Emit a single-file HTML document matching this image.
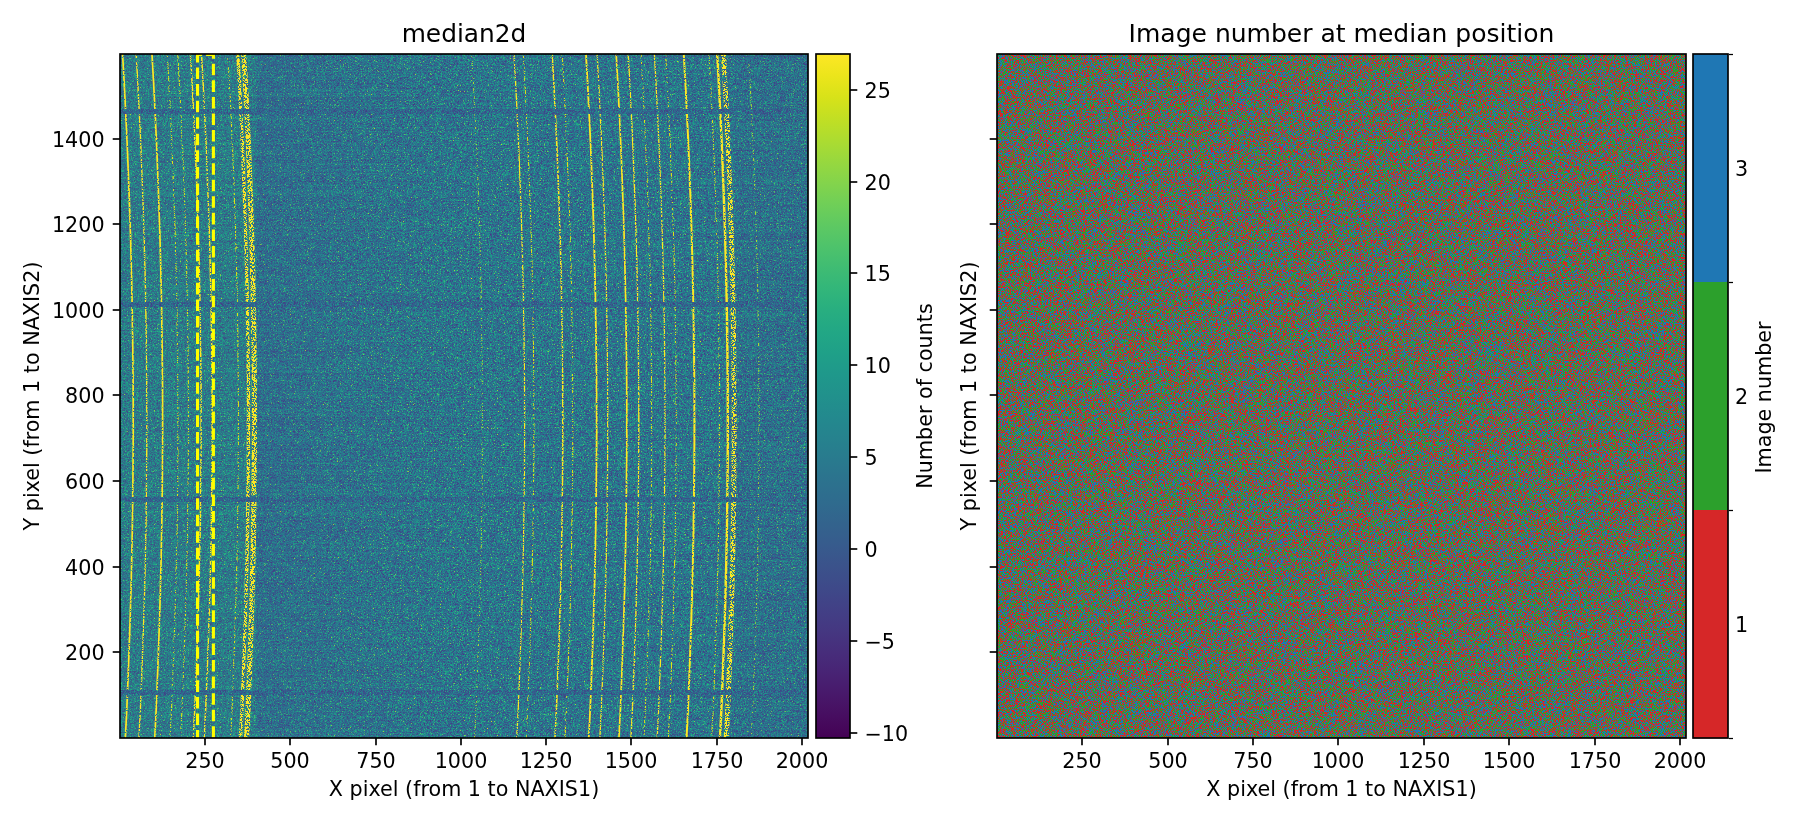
<!DOCTYPE html>
<html lang="en"><head><meta charset="utf-8"><title>median2d</title>
<style>html,body{margin:0;padding:0;background:#fff;overflow:hidden}svg{display:block;will-change:transform}text{font-family:"DejaVu Sans","Liberation Sans",sans-serif;fill:#000}</style></head><body>
<svg width="1800" height="825" viewBox="0 0 1800 825">
<rect width="1800" height="825" fill="#fff"/>
<defs>
<filter id="nz" x="0" y="0" width="100%" height="100%" color-interpolation-filters="sRGB">
<feTurbulence type="fractalNoise" baseFrequency="1.7" numOctaves="2" seed="3"/>
<feColorMatrix type="matrix" values="1 0 0 0 0 1 0 0 0 0 1 0 0 0 0 0 0 0 0 1"/>
<feComponentTransfer><feFuncR type="table" tableValues="0.278 0.277 0.277 0.277 0.276 0.276 0.275 0.274 0.273 0.272 0.271 0.268 0.267 0.264 0.262 0.259 0.256 0.252 0.247 0.243 0.239 0.234 0.228 0.222 0.216 0.211 0.205 0.199 0.192 0.187 0.181 0.174 0.168 0.162 0.156 0.149 0.143 0.136 0.130 0.125 0.121 0.119 0.122 0.130 0.147 0.166 0.197 0.233 0.274 0.320 0.369 0.431 0.487 0.555 0.616 0.689 0.762 0.835 0.916 0.984 0.993 0.993 0.993 0.993"/><feFuncG type="table" tableValues="0.180 0.185 0.185 0.185 0.190 0.190 0.195 0.200 0.205 0.209 0.214 0.224 0.228 0.238 0.242 0.252 0.261 0.270 0.283 0.292 0.301 0.314 0.327 0.339 0.352 0.364 0.376 0.388 0.403 0.415 0.430 0.445 0.460 0.475 0.490 0.508 0.523 0.541 0.560 0.574 0.593 0.615 0.633 0.651 0.673 0.691 0.712 0.732 0.752 0.771 0.789 0.808 0.824 0.840 0.853 0.865 0.876 0.886 0.896 0.905 0.906 0.906 0.906 0.906"/><feFuncB type="table" tableValues="0.487 0.490 0.490 0.490 0.493 0.493 0.496 0.499 0.502 0.504 0.507 0.512 0.514 0.519 0.521 0.525 0.528 0.532 0.536 0.539 0.541 0.544 0.547 0.549 0.551 0.552 0.554 0.555 0.556 0.557 0.557 0.558 0.558 0.558 0.558 0.557 0.556 0.554 0.552 0.549 0.545 0.538 0.530 0.522 0.509 0.497 0.479 0.459 0.437 0.411 0.383 0.346 0.312 0.269 0.230 0.183 0.137 0.103 0.101 0.137 0.144 0.144 0.144 0.144"/></feComponentTransfer>
</filter>
<filter id="nzd" x="0" y="0" width="100%" height="100%" color-interpolation-filters="sRGB">
<feTurbulence type="fractalNoise" baseFrequency="1.7" numOctaves="2" seed="11"/>
<feColorMatrix type="matrix" values="1 0 0 0 0 1 0 0 0 0 1 0 0 0 0 0 0 0 0 1"/>
<feComponentTransfer><feFuncR type="table" tableValues="0.259 0.261 0.262 0.264 0.264 0.264 0.265 0.265 0.265 0.264 0.264 0.264 0.262 0.261 0.261 0.259 0.257 0.254 0.252 0.250 0.247 0.243 0.241 0.237 0.234 0.228 0.224 0.220 0.214 0.209 0.205 0.199 0.194 0.187 0.182 0.177 0.171 0.165 0.161 0.155 0.149 0.142 0.136 0.131 0.125 0.121 0.120 0.121 0.126 0.140 0.158 0.181 0.214 0.253 0.289 0.336 0.386 0.449 0.506 0.565 0.637 0.710 0.773 0.846"/><feFuncG type="table" tableValues="0.252 0.247 0.242 0.238 0.238 0.238 0.233 0.233 0.233 0.238 0.238 0.238 0.242 0.247 0.247 0.252 0.256 0.265 0.270 0.274 0.283 0.292 0.296 0.305 0.314 0.327 0.335 0.343 0.356 0.368 0.376 0.388 0.399 0.415 0.426 0.438 0.453 0.467 0.479 0.493 0.508 0.526 0.541 0.556 0.574 0.593 0.607 0.626 0.644 0.666 0.684 0.701 0.722 0.742 0.758 0.777 0.795 0.814 0.829 0.842 0.857 0.869 0.878 0.887"/><feFuncB type="table" tableValues="0.525 0.523 0.521 0.519 0.519 0.519 0.517 0.517 0.517 0.519 0.519 0.519 0.521 0.523 0.523 0.525 0.527 0.530 0.532 0.533 0.536 0.539 0.540 0.542 0.544 0.547 0.548 0.549 0.551 0.553 0.554 0.555 0.556 0.557 0.557 0.558 0.558 0.558 0.558 0.558 0.557 0.556 0.554 0.552 0.549 0.545 0.540 0.533 0.525 0.513 0.502 0.488 0.470 0.448 0.428 0.402 0.373 0.335 0.300 0.263 0.217 0.169 0.131 0.100"/></feComponentTransfer>
</filter>
<filter id="rgb" x="0" y="0" width="100%" height="100%" color-interpolation-filters="sRGB">
<feTurbulence type="fractalNoise" baseFrequency="1.7" numOctaves="2" seed="7"/>
<feColorMatrix type="matrix" values="1 0 0 0 0 1 0 0 0 0 1 0 0 0 0 0 0 0 0 1"/>
<feComponentTransfer><feFuncR type="discrete" tableValues="0.839 0.839 0.839 0.839 0.839 0.839 0.839 0.839 0.839 0.839 0.839 0.839 0.839 0.839 0.839 0.839 0.839 0.839 0.839 0.839 0.839 0.839 0.839 0.839 0.839 0.839 0.839 0.839 0.839 0.839 0.839 0.839 0.839 0.839 0.839 0.839 0.839 0.839 0.839 0.839 0.839 0.839 0.839 0.839 0.839 0.839 0.839 0.839 0.839 0.839 0.839 0.839 0.839 0.839 0.839 0.839 0.839 0.839 0.839 0.839 0.839 0.839 0.839 0.839 0.839 0.839 0.839 0.839 0.839 0.839 0.839 0.839 0.839 0.839 0.839 0.839 0.839 0.839 0.839 0.839 0.839 0.839 0.839 0.839 0.839 0.839 0.839 0.839 0.839 0.839 0.839 0.839 0.839 0.839 0.839 0.839 0.839 0.839 0.839 0.839 0.839 0.839 0.839 0.839 0.839 0.839 0.839 0.839 0.839 0.839 0.839 0.839 0.839 0.839 0.839 0.839 0.173 0.173 0.173 0.173 0.173 0.173 0.173 0.173 0.173 0.173 0.173 0.173 0.173 0.173 0.173 0.173 0.173 0.173 0.173 0.173 0.173 0.173 0.173 0.173 0.173 0.122 0.122 0.122 0.122 0.122 0.122 0.122 0.122 0.122 0.122 0.122 0.122 0.122 0.122 0.122 0.122 0.122 0.122 0.122 0.122 0.122 0.122 0.122 0.122 0.122 0.122 0.122 0.122 0.122 0.122 0.122 0.122 0.122 0.122 0.122 0.122 0.122 0.122 0.122 0.122 0.122 0.122 0.122 0.122 0.122 0.122 0.122 0.122 0.122 0.122 0.122 0.122 0.122 0.122 0.122 0.122 0.122 0.122 0.122 0.122 0.122 0.122 0.122 0.122 0.122 0.122 0.122 0.122 0.122 0.122 0.122 0.122 0.122 0.122 0.122 0.122 0.122 0.122 0.122 0.122 0.122 0.122 0.122 0.122 0.122 0.122 0.122 0.122 0.122 0.122 0.122 0.122 0.122 0.122 0.122 0.122 0.122 0.122 0.122 0.122 0.122 0.122 0.122 0.122 0.122 0.122 0.122 0.122 0.122 0.122 0.122 0.122 0.122 0.122 0.122"/><feFuncG type="discrete" tableValues="0.153 0.153 0.153 0.153 0.153 0.153 0.153 0.153 0.153 0.153 0.153 0.153 0.153 0.153 0.153 0.153 0.153 0.153 0.153 0.153 0.153 0.153 0.153 0.153 0.153 0.153 0.153 0.153 0.153 0.153 0.153 0.153 0.153 0.153 0.153 0.153 0.153 0.153 0.153 0.153 0.153 0.153 0.153 0.153 0.153 0.153 0.153 0.153 0.153 0.153 0.153 0.153 0.153 0.153 0.153 0.153 0.153 0.153 0.153 0.153 0.153 0.153 0.153 0.153 0.153 0.153 0.153 0.153 0.153 0.153 0.153 0.153 0.153 0.153 0.153 0.153 0.153 0.153 0.153 0.153 0.153 0.153 0.153 0.153 0.153 0.153 0.153 0.153 0.153 0.153 0.153 0.153 0.153 0.153 0.153 0.153 0.153 0.153 0.153 0.153 0.153 0.153 0.153 0.153 0.153 0.153 0.153 0.153 0.153 0.153 0.153 0.153 0.153 0.153 0.153 0.153 0.627 0.627 0.627 0.627 0.627 0.627 0.627 0.627 0.627 0.627 0.627 0.627 0.627 0.627 0.627 0.627 0.627 0.627 0.627 0.627 0.627 0.627 0.627 0.627 0.627 0.467 0.467 0.467 0.467 0.467 0.467 0.467 0.467 0.467 0.467 0.467 0.467 0.467 0.467 0.467 0.467 0.467 0.467 0.467 0.467 0.467 0.467 0.467 0.467 0.467 0.467 0.467 0.467 0.467 0.467 0.467 0.467 0.467 0.467 0.467 0.467 0.467 0.467 0.467 0.467 0.467 0.467 0.467 0.467 0.467 0.467 0.467 0.467 0.467 0.467 0.467 0.467 0.467 0.467 0.467 0.467 0.467 0.467 0.467 0.467 0.467 0.467 0.467 0.467 0.467 0.467 0.467 0.467 0.467 0.467 0.467 0.467 0.467 0.467 0.467 0.467 0.467 0.467 0.467 0.467 0.467 0.467 0.467 0.467 0.467 0.467 0.467 0.467 0.467 0.467 0.467 0.467 0.467 0.467 0.467 0.467 0.467 0.467 0.467 0.467 0.467 0.467 0.467 0.467 0.467 0.467 0.467 0.467 0.467 0.467 0.467 0.467 0.467 0.467 0.467"/><feFuncB type="discrete" tableValues="0.157 0.157 0.157 0.157 0.157 0.157 0.157 0.157 0.157 0.157 0.157 0.157 0.157 0.157 0.157 0.157 0.157 0.157 0.157 0.157 0.157 0.157 0.157 0.157 0.157 0.157 0.157 0.157 0.157 0.157 0.157 0.157 0.157 0.157 0.157 0.157 0.157 0.157 0.157 0.157 0.157 0.157 0.157 0.157 0.157 0.157 0.157 0.157 0.157 0.157 0.157 0.157 0.157 0.157 0.157 0.157 0.157 0.157 0.157 0.157 0.157 0.157 0.157 0.157 0.157 0.157 0.157 0.157 0.157 0.157 0.157 0.157 0.157 0.157 0.157 0.157 0.157 0.157 0.157 0.157 0.157 0.157 0.157 0.157 0.157 0.157 0.157 0.157 0.157 0.157 0.157 0.157 0.157 0.157 0.157 0.157 0.157 0.157 0.157 0.157 0.157 0.157 0.157 0.157 0.157 0.157 0.157 0.157 0.157 0.157 0.157 0.157 0.157 0.157 0.157 0.157 0.173 0.173 0.173 0.173 0.173 0.173 0.173 0.173 0.173 0.173 0.173 0.173 0.173 0.173 0.173 0.173 0.173 0.173 0.173 0.173 0.173 0.173 0.173 0.173 0.173 0.706 0.706 0.706 0.706 0.706 0.706 0.706 0.706 0.706 0.706 0.706 0.706 0.706 0.706 0.706 0.706 0.706 0.706 0.706 0.706 0.706 0.706 0.706 0.706 0.706 0.706 0.706 0.706 0.706 0.706 0.706 0.706 0.706 0.706 0.706 0.706 0.706 0.706 0.706 0.706 0.706 0.706 0.706 0.706 0.706 0.706 0.706 0.706 0.706 0.706 0.706 0.706 0.706 0.706 0.706 0.706 0.706 0.706 0.706 0.706 0.706 0.706 0.706 0.706 0.706 0.706 0.706 0.706 0.706 0.706 0.706 0.706 0.706 0.706 0.706 0.706 0.706 0.706 0.706 0.706 0.706 0.706 0.706 0.706 0.706 0.706 0.706 0.706 0.706 0.706 0.706 0.706 0.706 0.706 0.706 0.706 0.706 0.706 0.706 0.706 0.706 0.706 0.706 0.706 0.706 0.706 0.706 0.706 0.706 0.706 0.706 0.706 0.706 0.706 0.706"/></feComponentTransfer>
</filter>
<filter id="spS" x="-5%" y="0" width="110%" height="100%" color-interpolation-filters="sRGB">
<feTurbulence type="fractalNoise" baseFrequency="1.7" numOctaves="2" seed="21"/>
<feColorMatrix type="matrix" values="0 0 0 0 1 0 0 0 0 1 0 0 0 0 1 40 0 0 0 -14.600" result="m"/>
<feComposite in="SourceGraphic" in2="m" operator="in"/>
</filter>
<filter id="spM" x="-5%" y="0" width="110%" height="100%" color-interpolation-filters="sRGB">
<feTurbulence type="fractalNoise" baseFrequency="1.7" numOctaves="2" seed="22"/>
<feColorMatrix type="matrix" values="0 0 0 0 1 0 0 0 0 1 0 0 0 0 1 40 0 0 0 -17.800" result="m"/>
<feComposite in="SourceGraphic" in2="m" operator="in"/>
</filter>
<filter id="spW" x="-5%" y="0" width="110%" height="100%" color-interpolation-filters="sRGB">
<feTurbulence type="fractalNoise" baseFrequency="1.7" numOctaves="2" seed="23"/>
<feColorMatrix type="matrix" values="0 0 0 0 1 0 0 0 0 1 0 0 0 0 1 40 0 0 0 -21.200" result="m"/>
<feComposite in="SourceGraphic" in2="m" operator="in"/>
</filter>
<filter id="spV" x="-5%" y="0" width="110%" height="100%" color-interpolation-filters="sRGB">
<feTurbulence type="fractalNoise" baseFrequency="1.7" numOctaves="2" seed="24"/>
<feColorMatrix type="matrix" values="0 0 0 0 1 0 0 0 0 1 0 0 0 0 1 40 0 0 0 -22.400" result="m"/>
<feComposite in="SourceGraphic" in2="m" operator="in"/>
</filter>
<filter id="spX" x="-5%" y="0" width="110%" height="100%" color-interpolation-filters="sRGB">
<feTurbulence type="fractalNoise" baseFrequency="1.7" numOctaves="2" seed="25"/>
<feColorMatrix type="matrix" values="0 0 0 0 1 0 0 0 0 1 0 0 0 0 1 40 0 0 0 -19.000" result="m"/>
<feComposite in="SourceGraphic" in2="m" operator="in"/>
</filter>
<filter id="spY" x="-5%" y="0" width="110%" height="100%" color-interpolation-filters="sRGB">
<feTurbulence type="fractalNoise" baseFrequency="1.7" numOctaves="2" seed="26"/>
<feColorMatrix type="matrix" values="0 0 0 0 1 0 0 0 0 1 0 0 0 0 1 40 0 0 0 -20.000" result="m"/>
<feComposite in="SourceGraphic" in2="m" operator="in"/>
</filter>
<filter id="rows" x="0" y="0" width="100%" height="100%" color-interpolation-filters="sRGB"><feTurbulence type="fractalNoise" baseFrequency="0.002 0.8" numOctaves="1" seed="5"/><feColorMatrix type="matrix" values="0 0 0 0 0.13 0 0 0 0 0.75 0 0 0 0 0.55 3 0 0 0 -1.5"/></filter>
<filter id="rowsd" x="0" y="0" width="100%" height="100%" color-interpolation-filters="sRGB"><feTurbulence type="fractalNoise" baseFrequency="0.002 0.8" numOctaves="1" seed="9"/><feColorMatrix type="matrix" values="0 0 0 0 0.25 0 0 0 0 0.2 0 0 0 0 0.5 3 0 0 0 -1.5"/></filter>
<clipPath id="cl"><rect x="120" y="54" width="688" height="684"/></clipPath>
<linearGradient id="vg" x1="0" y1="1" x2="0" y2="0">
<stop offset="0.0000" stop-color="#440154"/>
<stop offset="0.0312" stop-color="#470d60"/>
<stop offset="0.0625" stop-color="#48186a"/>
<stop offset="0.0938" stop-color="#482374"/>
<stop offset="0.1250" stop-color="#472d7b"/>
<stop offset="0.1562" stop-color="#453781"/>
<stop offset="0.1875" stop-color="#424086"/>
<stop offset="0.2188" stop-color="#3e4989"/>
<stop offset="0.2500" stop-color="#3b528b"/>
<stop offset="0.2812" stop-color="#375b8d"/>
<stop offset="0.3125" stop-color="#33638d"/>
<stop offset="0.3438" stop-color="#2f6b8e"/>
<stop offset="0.3750" stop-color="#2c728e"/>
<stop offset="0.4062" stop-color="#297a8e"/>
<stop offset="0.4375" stop-color="#26828e"/>
<stop offset="0.4688" stop-color="#23898e"/>
<stop offset="0.5000" stop-color="#21918c"/>
<stop offset="0.5312" stop-color="#1f988b"/>
<stop offset="0.5625" stop-color="#1fa088"/>
<stop offset="0.5938" stop-color="#22a785"/>
<stop offset="0.6250" stop-color="#28ae80"/>
<stop offset="0.6562" stop-color="#32b67a"/>
<stop offset="0.6875" stop-color="#3fbc73"/>
<stop offset="0.7188" stop-color="#4ec36b"/>
<stop offset="0.7500" stop-color="#5ec962"/>
<stop offset="0.7812" stop-color="#70cf57"/>
<stop offset="0.8125" stop-color="#84d44b"/>
<stop offset="0.8438" stop-color="#98d83e"/>
<stop offset="0.8750" stop-color="#addc30"/>
<stop offset="0.9062" stop-color="#c2df23"/>
<stop offset="0.9375" stop-color="#d8e219"/>
<stop offset="0.9688" stop-color="#ece51b"/>
<stop offset="1.0000" stop-color="#fde725"/>
</linearGradient>
<linearGradient id="dk" x1="0" y1="0" x2="1" y2="0"><stop offset="0" stop-color="#3b528b" stop-opacity="0.2"/><stop offset="0.35" stop-color="#3b528b" stop-opacity="0.1"/><stop offset="1" stop-color="#3b528b" stop-opacity="0"/></linearGradient>
</defs>
<g clip-path="url(#cl)">
<rect x="120" y="54" width="688" height="684" filter="url(#nz)"/>
<rect x="120" y="54" width="688" height="684" filter="url(#rows)" opacity="0.2"/>
<rect x="120" y="54" width="688" height="684" filter="url(#rowsd)" opacity="0.22"/>
<rect x="120" y="54" width="136" height="684" fill="#35b779" opacity="0.10"/>
<rect x="257" y="54" width="190" height="684" fill="url(#dk)"/>
<rect x="735" y="54" width="73" height="684" fill="#3b528b" opacity="0.10"/>
<g filter="url(#spS)" fill="none" stroke="#fde725">
<rect x="120" y="54" width="688" height="684" fill="none" stroke="none"/>
<path d="M122.5,53.0 L124.2,82.8 L125.7,112.7 L127.1,142.5 L128.3,172.3 L129.4,202.1 L130.4,232.0 L131.2,261.8 L131.9,291.6 L132.4,321.4 L132.8,351.3 L133.1,381.1 L133.2,410.9 L133.2,440.7 L133.0,470.6 L132.7,500.4 L132.3,530.2 L131.7,560.0 L131.0,589.9 L130.1,619.7 L129.1,649.5 L128.0,679.3 L126.8,709.2 L125.3,739.0" stroke-width="1.7"/>
<path d="M151.9,53.0 L153.6,82.8 L155.1,112.7 L156.5,142.5 L157.7,172.3 L158.8,202.1 L159.8,232.0 L160.6,261.8 L161.3,291.6 L161.8,321.4 L162.2,351.3 L162.5,381.1 L162.6,410.9 L162.6,440.7 L162.4,470.6 L162.1,500.4 L161.7,530.2 L161.1,560.0 L160.4,589.9 L159.5,619.7 L158.5,649.5 L157.4,679.3 L156.2,709.2 L154.7,739.0" stroke-width="1.7"/>
<path d="M585.9,53.0 L587.6,82.8 L589.1,112.7 L590.5,142.5 L591.7,172.3 L592.8,202.1 L593.8,232.0 L594.6,261.8 L595.3,291.6 L595.8,321.4 L596.2,351.3 L596.5,381.1 L596.6,410.9 L596.6,440.7 L596.4,470.6 L596.1,500.4 L595.7,530.2 L595.1,560.0 L594.4,589.9 L593.5,619.7 L592.5,649.5 L591.4,679.3 L590.2,709.2 L588.7,739.0" stroke-width="1.8"/>
<path d="M616.1,53.0 L617.8,82.8 L619.3,112.7 L620.7,142.5 L621.9,172.3 L623.0,202.1 L624.0,232.0 L624.8,261.8 L625.5,291.6 L626.0,321.4 L626.4,351.3 L626.7,381.1 L626.8,410.9 L626.8,440.7 L626.6,470.6 L626.3,500.4 L625.9,530.2 L625.3,560.0 L624.6,589.9 L623.7,619.7 L622.7,649.5 L621.6,679.3 L620.4,709.2 L618.9,739.0" stroke-width="1.7"/>
<path d="M683.7,53.0 L685.4,82.8 L686.9,112.7 L688.3,142.5 L689.5,172.3 L690.6,202.1 L691.6,232.0 L692.4,261.8 L693.1,291.6 L693.6,321.4 L694.0,351.3 L694.3,381.1 L694.4,410.9 L694.4,440.7 L694.2,470.6 L693.9,500.4 L693.5,530.2 L692.9,560.0 L692.2,589.9 L691.3,619.7 L690.3,649.5 L689.2,679.3 L688.0,709.2 L686.5,739.0" stroke-width="2"/>
<path d="M717.1,53.0 L718.8,82.8 L720.3,112.7 L721.7,142.5 L722.9,172.3 L724.0,202.1 L725.0,232.0 L725.8,261.8 L726.5,291.6 L727.0,321.4 L727.4,351.3 L727.7,381.1 L727.8,410.9 L727.8,440.7 L727.6,470.6 L727.3,500.4 L726.9,530.2 L726.3,560.0 L725.6,589.9 L724.7,619.7 L723.7,649.5 L722.6,679.3 L721.4,709.2 L719.9,739.0" stroke-width="2.4"/>
</g>
<g filter="url(#spM)" fill="none" stroke="#fde725">
<rect x="120" y="54" width="688" height="684" fill="none" stroke="none"/>
<path d="M136.1,53.0 L137.8,82.8 L139.3,112.7 L140.7,142.5 L141.9,172.3 L143.0,202.1 L144.0,232.0 L144.8,261.8 L145.5,291.6 L146.0,321.4 L146.4,351.3 L146.7,381.1 L146.8,410.9 L146.8,440.7 L146.6,470.6 L146.3,500.4 L145.9,530.2 L145.3,560.0 L144.6,589.9 L143.7,619.7 L142.7,649.5 L141.6,679.3 L140.4,709.2 L138.9,739.0" stroke-width="1.4"/>
<path d="M190.4,53.0 L192.1,82.8 L193.6,112.7 L195.0,142.5 L196.2,172.3 L197.3,202.1 L198.3,232.0 L199.1,261.8 L199.8,291.6 L200.3,321.4 L200.7,351.3 L201.0,381.1 L201.1,410.9 L201.1,440.7 L200.9,470.6 L200.6,500.4 L200.2,530.2 L199.6,560.0 L198.9,589.9 L198.0,619.7 L197.0,649.5 L195.9,679.3 L194.7,709.2 L193.2,739.0" stroke-width="1.5"/>
<path d="M201.4,53.0 L203.1,82.8 L204.6,112.7 L206.0,142.5 L207.2,172.3 L208.3,202.1 L209.3,232.0 L210.1,261.8 L210.8,291.6 L211.3,321.4 L211.7,351.3 L212.0,381.1 L212.1,410.9 L212.1,440.7 L211.9,470.6 L211.6,500.4 L211.2,530.2 L210.6,560.0 L209.9,589.9 L209.0,619.7 L208.0,649.5 L206.9,679.3 L205.7,709.2 L204.2,739.0" stroke-width="1.5"/>
<path d="M513.9,53.0 L515.6,82.8 L517.1,112.7 L518.5,142.5 L519.7,172.3 L520.8,202.1 L521.8,232.0 L522.6,261.8 L523.3,291.6 L523.8,321.4 L524.2,351.3 L524.5,381.1 L524.6,410.9 L524.6,440.7 L524.4,470.6 L524.1,500.4 L523.7,530.2 L523.1,560.0 L522.4,589.9 L521.5,619.7 L520.5,649.5 L519.4,679.3 L518.2,709.2 L516.7,739.0" stroke-width="1.3"/>
<path d="M552.1,53.0 L553.8,82.8 L555.3,112.7 L556.7,142.5 L557.9,172.3 L559.0,202.1 L560.0,232.0 L560.8,261.8 L561.5,291.6 L562.0,321.4 L562.4,351.3 L562.7,381.1 L562.8,410.9 L562.8,440.7 L562.6,470.6 L562.3,500.4 L561.9,530.2 L561.3,560.0 L560.6,589.9 L559.7,619.7 L558.7,649.5 L557.6,679.3 L556.4,709.2 L554.9,739.0" stroke-width="1.6"/>
<path d="M597.0,53.0 L598.7,82.8 L600.2,112.7 L601.6,142.5 L602.8,172.3 L603.9,202.1 L604.9,232.0 L605.7,261.8 L606.4,291.6 L606.9,321.4 L607.3,351.3 L607.6,381.1 L607.7,410.9 L607.7,440.7 L607.5,470.6 L607.2,500.4 L606.8,530.2 L606.2,560.0 L605.5,589.9 L604.6,619.7 L603.6,649.5 L602.5,679.3 L601.3,709.2 L599.8,739.0" stroke-width="1.3"/>
<path d="M628.1,53.0 L629.8,82.8 L631.3,112.7 L632.7,142.5 L633.9,172.3 L635.0,202.1 L636.0,232.0 L636.8,261.8 L637.5,291.6 L638.0,321.4 L638.4,351.3 L638.7,381.1 L638.8,410.9 L638.8,440.7 L638.6,470.6 L638.3,500.4 L637.9,530.2 L637.3,560.0 L636.6,589.9 L635.7,619.7 L634.7,649.5 L633.6,679.3 L632.4,709.2 L630.9,739.0" stroke-width="1.4"/>
<path d="M654.3,53.0 L656.0,82.8 L657.5,112.7 L658.9,142.5 L660.1,172.3 L661.2,202.1 L662.2,232.0 L663.0,261.8 L663.7,291.6 L664.2,321.4 L664.6,351.3 L664.9,381.1 L665.0,410.9 L665.0,440.7 L664.8,470.6 L664.5,500.4 L664.1,530.2 L663.5,560.0 L662.8,589.9 L661.9,619.7 L660.9,649.5 L659.8,679.3 L658.6,709.2 L657.1,739.0" stroke-width="1.3"/>
</g>
<g filter="url(#spW)" fill="none" stroke="#dde318">
<rect x="120" y="54" width="688" height="684" fill="none" stroke="none"/>
<path d="M167.2,53.0 L168.9,82.8 L170.4,112.7 L171.8,142.5 L173.0,172.3 L174.1,202.1 L175.1,232.0 L175.9,261.8 L176.6,291.6 L177.1,321.4 L177.5,351.3 L177.8,381.1 L177.9,410.9 L177.9,440.7 L177.7,470.6 L177.4,500.4 L177.0,530.2 L176.4,560.0 L175.7,589.9 L174.8,619.7 L173.8,649.5 L172.7,679.3 L171.5,709.2 L170.0,739.0" stroke-width="1.2"/>
<path d="M177.7,53.0 L179.4,82.8 L180.9,112.7 L182.3,142.5 L183.5,172.3 L184.6,202.1 L185.6,232.0 L186.4,261.8 L187.1,291.6 L187.6,321.4 L188.0,351.3 L188.3,381.1 L188.4,410.9 L188.4,440.7 L188.2,470.6 L187.9,500.4 L187.5,530.2 L186.9,560.0 L186.2,589.9 L185.3,619.7 L184.3,649.5 L183.2,679.3 L182.0,709.2 L180.5,739.0" stroke-width="1.2"/>
<path d="M227.7,53.0 L229.4,82.8 L230.9,112.7 L232.3,142.5 L233.5,172.3 L234.6,202.1 L235.6,232.0 L236.4,261.8 L237.1,291.6 L237.6,321.4 L238.0,351.3 L238.3,381.1 L238.4,410.9 L238.4,440.7 L238.2,470.6 L237.9,500.4 L237.5,530.2 L236.9,560.0 L236.2,589.9 L235.3,619.7 L234.3,649.5 L233.2,679.3 L232.0,709.2 L230.5,739.0" stroke-width="1.2"/>
<path d="M523.2,53.0 L524.9,82.8 L526.4,112.7 L527.8,142.5 L529.0,172.3 L530.1,202.1 L531.1,232.0 L531.9,261.8 L532.6,291.6 L533.1,321.4 L533.5,351.3 L533.8,381.1 L533.9,410.9 L533.9,440.7 L533.7,470.6 L533.4,500.4 L533.0,530.2 L532.4,560.0 L531.7,589.9 L530.8,619.7 L529.8,649.5 L528.7,679.3 L527.5,709.2 L526.0,739.0" stroke-width="1.2"/>
<path d="M562.1,53.0 L563.8,82.8 L565.3,112.7 L566.7,142.5 L567.9,172.3 L569.0,202.1 L570.0,232.0 L570.8,261.8 L571.5,291.6 L572.0,321.4 L572.4,351.3 L572.7,381.1 L572.8,410.9 L572.8,440.7 L572.6,470.6 L572.3,500.4 L571.9,530.2 L571.3,560.0 L570.6,589.9 L569.7,619.7 L568.7,649.5 L567.6,679.3 L566.4,709.2 L564.9,739.0" stroke-width="1.3"/>
<path d="M641.0,53.0 L642.7,82.8 L644.2,112.7 L645.6,142.5 L646.8,172.3 L647.9,202.1 L648.9,232.0 L649.7,261.8 L650.4,291.6 L650.9,321.4 L651.3,351.3 L651.6,381.1 L651.7,410.9 L651.7,440.7 L651.5,470.6 L651.2,500.4 L650.8,530.2 L650.2,560.0 L649.5,589.9 L648.6,619.7 L647.6,649.5 L646.5,679.3 L645.3,709.2 L643.8,739.0" stroke-width="1.2"/>
<path d="M665.5,53.0 L667.2,82.8 L668.7,112.7 L670.1,142.5 L671.3,172.3 L672.4,202.1 L673.4,232.0 L674.2,261.8 L674.9,291.6 L675.4,321.4 L675.8,351.3 L676.1,381.1 L676.2,410.9 L676.2,440.7 L676.0,470.6 L675.7,500.4 L675.3,530.2 L674.7,560.0 L674.0,589.9 L673.1,619.7 L672.1,649.5 L671.0,679.3 L669.8,709.2 L668.3,739.0" stroke-width="1.2"/>
<path d="M708.8,53.0 L710.5,82.8 L712.0,112.7 L713.4,142.5 L714.6,172.3 L715.7,202.1 L716.7,232.0 L717.5,261.8 L718.2,291.6 L718.7,321.4 L719.1,351.3 L719.4,381.1 L719.5,410.9 L719.5,440.7 L719.3,470.6 L719.0,500.4 L718.6,530.2 L718.0,560.0 L717.3,589.9 L716.4,619.7 L715.4,649.5 L714.3,679.3 L713.1,709.2 L711.6,739.0" stroke-width="1.2"/>
</g>
<g filter="url(#spV)" fill="none" stroke="#a8db34">
<rect x="120" y="54" width="688" height="684" fill="none" stroke="none"/>
<path d="M471.7,53.0 L473.4,82.8 L474.9,112.7 L476.3,142.5 L477.5,172.3 L478.6,202.1 L479.6,232.0 L480.4,261.8 L481.1,291.6 L481.6,321.4 L482.0,351.3 L482.3,381.1 L482.4,410.9 L482.4,440.7 L482.2,470.6 L481.9,500.4 L481.5,530.2 L480.9,560.0 L480.2,589.9 L479.3,619.7 L478.3,649.5 L477.2,679.3 L476.0,709.2 L474.5,739.0" stroke-width="1.2"/>
<path d="M748.4,53.0 L750.1,82.8 L751.6,112.7 L753.0,142.5 L754.2,172.3 L755.3,202.1 L756.3,232.0 L757.1,261.8 L757.8,291.6 L758.3,321.4 L758.7,351.3 L759.0,381.1 L759.1,410.9 L759.1,440.7 L758.9,470.6 L758.6,500.4 L758.2,530.2 L757.6,560.0 L756.9,589.9 L756.0,619.7 L755.0,649.5 L753.9,679.3 L752.7,709.2 L751.2,739.0" stroke-width="1.2"/>
</g>
<g filter="url(#spX)" fill="none" stroke="#fde725">
<rect x="120" y="54" width="688" height="684" fill="none" stroke="none"/>
<path d="M237.7,53.0 L239.4,82.8 L240.9,112.7 L242.3,142.5 L243.5,172.3 L244.6,202.1 L245.6,232.0 L246.4,261.8 L247.1,291.6 L247.6,321.4 L248.0,351.3 L248.3,381.1 L248.4,410.9 L248.4,440.7 L248.2,470.6 L247.9,500.4 L247.5,530.2 L246.9,560.0 L246.2,589.9 L245.3,619.7 L244.3,649.5 L243.2,679.3 L242.0,709.2 L240.5,739.0" stroke-width="3.4"/>
<path d="M243.7,53.0 L245.4,82.8 L246.9,112.7 L248.3,142.5 L249.5,172.3 L250.6,202.1 L251.6,232.0 L252.4,261.8 L253.1,291.6 L253.6,321.4 L254.0,351.3 L254.3,381.1 L254.4,410.9 L254.4,440.7 L254.2,470.6 L253.9,500.4 L253.5,530.2 L252.9,560.0 L252.2,589.9 L251.3,619.7 L250.3,649.5 L249.2,679.3 L248.0,709.2 L246.5,739.0" stroke-width="5.2"/>
</g>
<g filter="url(#spY)" fill="none" stroke="#fde725">
<rect x="120" y="54" width="688" height="684" fill="none" stroke="none"/>
<path d="M723.4,53.0 L725.1,82.8 L726.6,112.7 L728.0,142.5 L729.2,172.3 L730.3,202.1 L731.3,232.0 L732.1,261.8 L732.8,291.6 L733.3,321.4 L733.7,351.3 L734.0,381.1 L734.1,410.9 L734.1,440.7 L733.9,470.6 L733.6,500.4 L733.2,530.2 L732.6,560.0 L731.9,589.9 L731.0,619.7 L730.0,649.5 L728.9,679.3 L727.7,709.2 L726.2,739.0" stroke-width="5"/>
</g>
<rect x="120" y="109.1" width="688" height="4.4" filter="url(#nzd)"/>
<rect x="120" y="302.4" width="688" height="4.4" filter="url(#nzd)"/>
<rect x="120" y="497.3" width="688" height="4.4" filter="url(#nzd)"/>
<rect x="120" y="690.3" width="688" height="4.4" filter="url(#nzd)"/>
<path d="M213.4,754.4 V54.5 H197.55 V745" fill="none" stroke="#ffff00" stroke-width="3.1" stroke-dasharray="11.5625 5"/>
</g>
<rect x="997" y="54" width="689" height="684" filter="url(#rgb)"/>
<rect x="816" y="54" width="34" height="684" fill="url(#vg)"/>
<rect x="1693" y="54" width="35" height="228.3" fill="#1f77b4"/>
<rect x="1693" y="282" width="35" height="228.3" fill="#2ca02c"/>
<rect x="1693" y="510" width="35" height="228.3" fill="#d62728"/>
<g fill="none" stroke="#000" stroke-width="1.67" stroke-linejoin="miter">
<rect x="120" y="54" width="688" height="684"/>
<rect x="997" y="54" width="689" height="684"/>
<rect x="816" y="54" width="34" height="684"/>
<rect x="1693" y="54" width="35" height="684"/>
</g>
<g stroke="#000" stroke-width="1.67" fill="none">
<path d="M205,738 v7.29"/>
<path d="M1082,738 v7.29"/>
<path d="M290,738 v7.29"/>
<path d="M1168,738 v7.29"/>
<path d="M376,738 v7.29"/>
<path d="M1253,738 v7.29"/>
<path d="M461,738 v7.29"/>
<path d="M1338,738 v7.29"/>
<path d="M546,738 v7.29"/>
<path d="M1424,738 v7.29"/>
<path d="M631,738 v7.29"/>
<path d="M1509,738 v7.29"/>
<path d="M717,738 v7.29"/>
<path d="M1595,738 v7.29"/>
<path d="M802,738 v7.29"/>
<path d="M1680,738 v7.29"/>
<path d="M120,652 h-7.29"/>
<path d="M997,652 h-7.29"/>
<path d="M120,567 h-7.29"/>
<path d="M997,567 h-7.29"/>
<path d="M120,481 h-7.29"/>
<path d="M997,481 h-7.29"/>
<path d="M120,395 h-7.29"/>
<path d="M997,395 h-7.29"/>
<path d="M120,310 h-7.29"/>
<path d="M997,310 h-7.29"/>
<path d="M120,224 h-7.29"/>
<path d="M997,224 h-7.29"/>
<path d="M120,139 h-7.29"/>
<path d="M997,139 h-7.29"/>
<path d="M850,733 h7.29"/>
<path d="M850,641 h7.29"/>
<path d="M850,549 h7.29"/>
<path d="M850,457 h7.29"/>
<path d="M850,365 h7.29"/>
<path d="M850,273 h7.29"/>
<path d="M850,182 h7.29"/>
<path d="M850,90 h7.29"/>
</g>
<g stroke="#000" stroke-width="1.25" fill="none">
<path d="M1728.84,54.5 h4.17"/>
<path d="M1728.84,282.5 h4.17"/>
<path d="M1728.84,510.5 h4.17"/>
<path d="M1728.84,738.5 h4.17"/>
</g>
<g font-size="20.7">
<text x="205" y="767.7" text-anchor="middle">250</text>
<text x="1082" y="767.7" text-anchor="middle">250</text>
<text x="290" y="767.7" text-anchor="middle">500</text>
<text x="1168" y="767.7" text-anchor="middle">500</text>
<text x="376" y="767.7" text-anchor="middle">750</text>
<text x="1253" y="767.7" text-anchor="middle">750</text>
<text x="461" y="767.7" text-anchor="middle">1000</text>
<text x="1338" y="767.7" text-anchor="middle">1000</text>
<text x="546" y="767.7" text-anchor="middle">1250</text>
<text x="1424" y="767.7" text-anchor="middle">1250</text>
<text x="631" y="767.7" text-anchor="middle">1500</text>
<text x="1509" y="767.7" text-anchor="middle">1500</text>
<text x="717" y="767.7" text-anchor="middle">1750</text>
<text x="1595" y="767.7" text-anchor="middle">1750</text>
<text x="802" y="767.7" text-anchor="middle">2000</text>
<text x="1680" y="767.7" text-anchor="middle">2000</text>
<text x="104.6" y="659.6" text-anchor="end">200</text>
<text x="104.6" y="574.6" text-anchor="end">400</text>
<text x="104.6" y="488.6" text-anchor="end">600</text>
<text x="104.6" y="402.6" text-anchor="end">800</text>
<text x="104.6" y="317.6" text-anchor="end">1000</text>
<text x="104.6" y="231.6" text-anchor="end">1200</text>
<text x="104.6" y="146.6" text-anchor="end">1400</text>
<text x="864.5" y="740.6">−10</text>
<text x="864.5" y="648.6">−5</text>
<text x="864.5" y="556.6">0</text>
<text x="864.5" y="464.6">5</text>
<text x="864.5" y="372.6">10</text>
<text x="864.5" y="280.6">15</text>
<text x="864.5" y="189.6">20</text>
<text x="864.5" y="97.6">25</text>
<text x="1735" y="175.6">3</text>
<text x="1735" y="403.6">2</text>
<text x="1735" y="631.6">1</text>
<text x="464" y="796.2" text-anchor="middle">X pixel (from 1 to NAXIS1)</text>
<text x="1341.5" y="796.2" text-anchor="middle">X pixel (from 1 to NAXIS1)</text>
<text transform="translate(39.1,396) rotate(-90)" text-anchor="middle">Y pixel (from 1 to NAXIS2)</text>
<text transform="translate(975.8,396) rotate(-90)" text-anchor="middle">Y pixel (from 1 to NAXIS2)</text>
<text transform="translate(932.3,396) rotate(-90)" text-anchor="middle">Number of counts</text>
<text transform="translate(1770.5,397.5) rotate(-90)" text-anchor="middle">Image number</text>
</g>
<g font-size="24.85">
<text x="464" y="41.9" text-anchor="middle">median2d</text>
<text x="1341.5" y="41.9" text-anchor="middle" font-size="25.03">Image number at median position</text>
</g>
</svg></body></html>
